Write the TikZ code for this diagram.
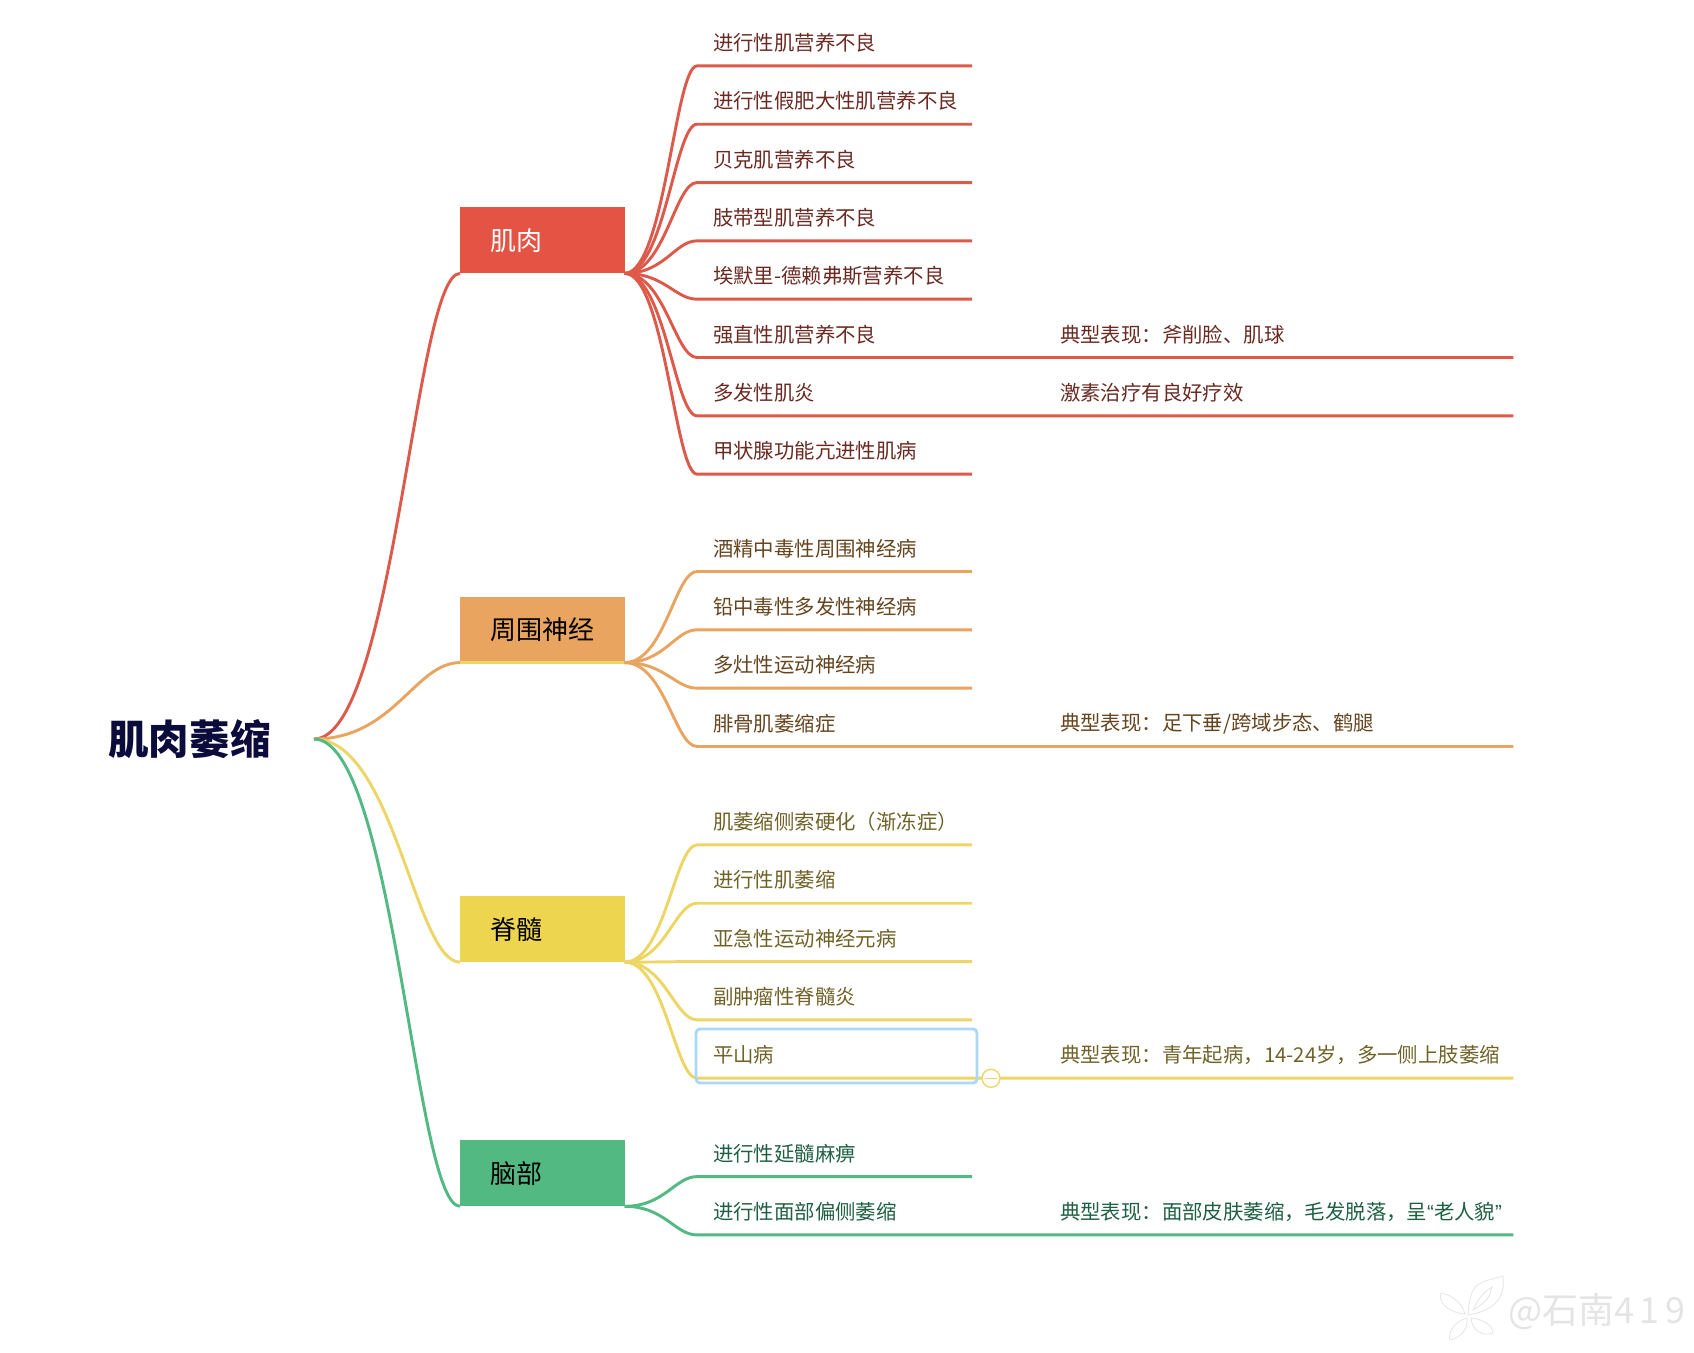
\documentclass[tikz,border=0pt]{standalone}
\usepackage{fontspec}
\usepackage{xcolor}
\setmainfont{Noto Sans CJK SC}
\newfontfamily\quotefont{Liberation Sans}
\usetikzlibrary{positioning}
\definecolor{redc}{HTML}{E45343}
\definecolor{redl}{HTML}{DD5A4B}
\definecolor{orangec}{HTML}{E9A45F}
\definecolor{yellowc}{HTML}{EED54F}
\definecolor{yellowl}{HTML}{EDD566}
\definecolor{greenc}{HTML}{53B982}
\definecolor{redt}{HTML}{6A2A22}
\definecolor{oranget}{HTML}{65451F}
\definecolor{yellowt}{HTML}{6F6228}
\definecolor{greent}{HTML}{1F5F43}
\definecolor{roott}{HTML}{0C0C3C}
\definecolor{selectc}{HTML}{A9D9F6}
\definecolor{markc}{HTML}{E4E4E4}

\begin{document}
\begin{tikzpicture}[
  x=0.75pt, y=-0.75pt,
  node distance=9.14pt,
  rootnode/.style={rectangle, minimum width=186.75pt, outer sep=0pt, text=roott, font=\fontsize{30.4}{36}\selectfont\bfseries},
  branchnode/.style={rectangle, minimum height=49.5pt, text width=78pt, inner xsep=22.75pt, align=left, outer sep=0pt, font=\fontsize{19.5}{24}\selectfont},
  leafnode/.style={rectangle, minimum height=34.6pt, text width=182.25pt, inner xsep=12pt, inner ysep=0pt, align=left, outer sep=0pt, font=\fontsize{15.3}{19}\selectfont},
  notenode/.style={rectangle, minimum height=34.6pt, text width=340pt, inner xsep=0pt, inner ysep=0pt, align=left, outer sep=0pt, font=\fontsize{15.3}{19}\selectfont},
  branchline/.style={to path={.. controls +(80,0) and +(-45,0) .. (\tikztotarget)}},
  leafline/.style={to path={.. controls +(40,0) and +(-22,0) .. (\tikztotarget)}},
  every path/.style={line width=2.2pt}
]
  \useasboundingbox (0,0) rectangle (1694,1352);

  % root and the four branches
  \node[rootnode] (root) at (189.5,739) {肌肉萎缩};
  \node[branchnode, fill=redc, text=white] (M) at (542.3,240.4) {肌肉};
  \node[branchnode, fill=orangec, text=black] (P) at (542.3,629.6) {周围神经};
  \node[branchnode, fill=yellowc, text=black] (S) at (542.3,929.1) {脊髓};
  \node[branchnode, fill=greenc, text=black] (B) at (542.3,1173.3) {脑部};

  % muscle
  \node[leafnode, text=redt, anchor=south west] (M1) at (697,65.9) {进行性肌营养不良};
  \node[leafnode, text=redt] (M2) [below=of M1] {进行性假肥大性肌营养不良};
  \node[leafnode, text=redt] (M3) [below=of M2] {贝克肌营养不良};
  \node[leafnode, text=redt] (M4) [below=of M3] {肢带型肌营养不良};
  \node[leafnode, text=redt] (M5) [below=of M4] {埃默里-德赖弗斯营养不良};
  \node[leafnode, text=redt] (M6) [below=of M5] {强直性肌营养不良};
  \node[leafnode, text=redt] (M7) [below=of M6] {多发性肌炎};
  \node[leafnode, text=redt] (M8) [below=of M7] {甲状腺功能亢进性肌病};
  \node[notenode, text=redt] (MN6) [right=66pt of M6.south east, anchor=south west] {典型表现：斧削脸、肌球};
  \node[notenode, text=redt] (MN7) [right=66pt of M7.south east, anchor=south west] {激素治疗有良好疗效};

  % peripheral nerve
  \node[leafnode, text=oranget, anchor=south west] (P1) at (697,571.5) {酒精中毒性周围神经病};
  \node[leafnode, text=oranget] (P2) [below=of P1] {铅中毒性多发性神经病};
  \node[leafnode, text=oranget] (P3) [below=of P2] {多灶性运动神经病};
  \node[leafnode, text=oranget] (P4) [below=of P3] {腓骨肌萎缩症};
  \node[notenode, text=oranget] (PN4) [right=66pt of P4.south east, anchor=south west] {典型表现：足下垂/跨域步态、鹤腿};

  % spinal cord
  \node[leafnode, text=yellowt, anchor=south west] (S1) at (697,844.9) {肌萎缩侧索硬化（渐冻症）};
  \node[leafnode, text=yellowt] (S2) [below=of S1] {进行性肌萎缩};
  \node[leafnode, text=yellowt] (S3) [below=of S2] {亚急性运动神经元病};
  \node[leafnode, text=yellowt] (S4) [below=of S3] {副肿瘤性脊髓炎};
  \node[leafnode, text=yellowt] (S5) [below=of S4] {平山病};
  \node[notenode, text=yellowt] (SN5) [right=66pt of S5.south east, anchor=south west] {典型表现：青年起病，14-24岁，多一侧上肢萎缩};

  % brain
  \node[leafnode, text=greent, anchor=south west] (B1) at (697,1176.6) {进行性延髓麻痹};
  \node[leafnode, text=greent] (B2) [below=of B1] {进行性面部偏侧萎缩};
  \node[notenode, text=greent] (BN2) [right=66pt of B2.south east, anchor=south west] {典型表现：面部皮肤萎缩，毛发脱落，呈{\quotefont “}老人貌{\quotefont ”}};

  \draw[redl] (root.east) to[branchline] (M.south west);
  \draw[orangec] (root.east) to[branchline] (P.south west);
  \draw[yellowl] (P.south west) -- (P.south east);
  \draw[yellowl] (root.east) to[branchline] (S.south west);
  \draw[greenc] (root.east) to[branchline] (B.south west);

  \draw[redl] (M.south east) to[leafline] (M1.south west) -- (M1.south east);
  \draw[redl] (M.south east) to[leafline] (M2.south west) -- (M2.south east);
  \draw[redl] (M.south east) to[leafline] (M3.south west) -- (M3.south east);
  \draw[redl] (M.south east) to[leafline] (M4.south west) -- (M4.south east);
  \draw[redl] (M.south east) to[leafline] (M5.south west) -- (M5.south east);
  \draw[redl] (M.south east) to[leafline] (M6.south west) -- (MN6.south east);
  \draw[redl] (M.south east) to[leafline] (M7.south west) -- (MN7.south east);
  \draw[redl] (M.south east) to[leafline] (M8.south west) -- (M8.south east);

  \draw[orangec] (P.south east) to[leafline] (P1.south west) -- (P1.south east);
  \draw[orangec] (P.south east) to[leafline] (P2.south west) -- (P2.south east);
  \draw[orangec] (P.south east) to[leafline] (P3.south west) -- (P3.south east);
  \draw[orangec] (P.south east) to[leafline] (P4.south west) -- (PN4.south east);

  \draw[yellowl] (S.south east) to[leafline] (S1.south west) -- (S1.south east);
  \draw[yellowl] (S.south east) to[leafline] (S2.south west) -- (S2.south east);
  \draw[yellowl] (S.south east) to[leafline] (S3.south west) -- (S3.south east);
  \draw[yellowl] (S.south east) to[leafline] (S4.south west) -- (S4.south east);
  \draw[yellowl] (S.south east) to[leafline] (S5.south west) -- (SN5.south east);

  \draw[greenc] (B.south east) to[leafline] (B1.south west) -- (B1.south east);
  \draw[greenc] (B.south east) to[leafline] (B2.south west) -- (BN2.south east);

  % selection frame and collapse mark
  \draw[selectc, rounded corners=3pt] (696,1029) rectangle (977,1083);
  \node[circle, draw=yellowl, fill=white, line width=1pt, minimum size=13.5pt, inner sep=0pt] (SC) at (991,1078.3) {};
  \draw[yellowl, line width=0.8pt] ([xshift=2.5pt]SC.west) -- ([xshift=-2.5pt]SC.east);

  % watermark
  \node[text=markc, anchor=west, inner sep=0pt, font=\fontsize{27}{32}\selectfont] (mark) at (1507,1311) {@石南4\hspace{4pt}1\hspace{4pt}9};
  \draw[markc, line width=0.6pt] (1468,1315) .. controls (1470,1280) and (1480,1283) .. (1503,1276) .. controls (1505,1295) and (1498,1310) .. cycle;
  \draw[markc, line width=0.6pt] (1473,1310) .. controls (1480,1295) and (1485,1292) .. (1492,1287) .. controls (1490,1298) and (1485,1303) .. cycle;
  \draw[markc, line width=0.6pt] (1465,1314) .. controls (1445,1312) and (1438,1300) .. (1441,1293) .. controls (1452,1295) and (1462,1303) .. cycle;
  \draw[markc, line width=0.6pt] (1467,1318) .. controls (1452,1322) and (1448,1335) .. (1450,1340) .. controls (1460,1338) and (1468,1330) .. cycle;
  \draw[markc, line width=0.6pt] (1471,1318) .. controls (1488,1320) and (1493,1328) .. (1493,1333) .. controls (1482,1337) and (1472,1330) .. cycle;
\end{tikzpicture}
\end{document}
